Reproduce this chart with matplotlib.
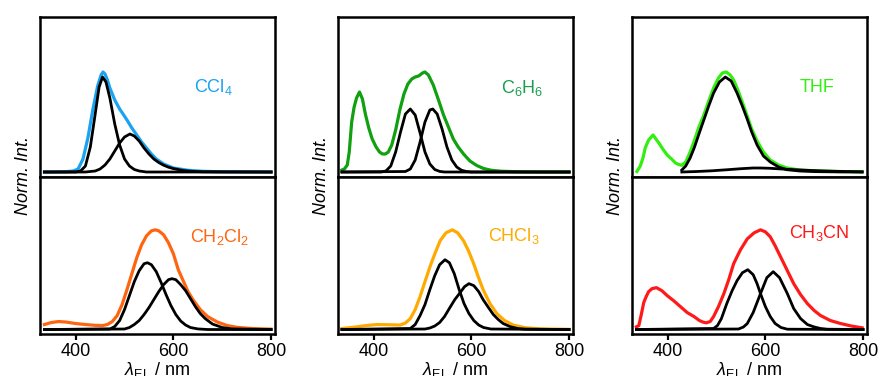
import numpy as np
import matplotlib
matplotlib.use("Agg")
import matplotlib.pyplot as plt

plt.rcParams['font.family'] = ['Liberation Sans', 'DejaVu Sans']
plt.rcParams['mathtext.fontset'] = 'custom'
plt.rcParams['mathtext.rm'] = 'Liberation Sans'
plt.rcParams['mathtext.it'] = 'Liberation Sans:italic'
plt.rcParams['font.size'] = 13

# --- CCl4 (top left) ---
ccl4_wl = [336, 350, 380, 395, 405, 415, 425, 435, 445, 452, 456, 460, 465, 470, 480, 490, 497, 505,
           515, 525, 535, 545, 555, 565, 580, 600, 630, 660, 700, 800]
ccl4_em = [0, 0, 0.003, 0.01, 0.03, 0.13, 0.34, 0.62, 0.86, 0.97, 1.0, 0.98, 0.92, 0.84, 0.72, 0.63, 0.58, 0.52,
           0.44, 0.37, 0.30, 0.24, 0.18, 0.13, 0.08, 0.04, 0.017, 0.007, 0.002, 0]
ccl4_f1_wl = [336, 400, 410, 420, 430, 440, 448, 455, 462, 470, 480, 490, 500, 510, 520, 530, 545, 800]
ccl4_f1 = [0, 0, 0.01, 0.06, 0.25, 0.58, 0.85, 0.95, 0.9, 0.74, 0.48, 0.27, 0.13, 0.06, 0.025, 0.01, 0, 0]
ccl4_f2_wl = [336, 420, 440, 450, 460, 470, 480, 490, 500, 511, 520, 530, 540, 550, 560, 570, 580, 590,
              600, 620, 640, 660, 800]
ccl4_f2 = [0, 0, 0.01, 0.03, 0.07, 0.13, 0.21, 0.29, 0.35, 0.38, 0.36, 0.31, 0.24, 0.18, 0.13, 0.095, 0.068, 0.048,
           0.034, 0.015, 0.006, 0.002, 0]

# --- CH2Cl2 (bottom left) ---
ch2cl2_wl = [336, 350, 365, 380, 400, 420, 440, 455, 465, 475, 485, 495, 505, 515, 525, 535, 545, 555, 563,
             570, 580, 590, 600, 610, 620, 630, 640, 655, 670, 690, 710, 730, 760, 800]
ch2cl2_em = [0.05, 0.07, 0.08, 0.075, 0.06, 0.05, 0.042, 0.04, 0.05, 0.08, 0.14, 0.25, 0.40, 0.56, 0.72, 0.85,
             0.94, 0.99, 1.0, 0.99, 0.95, 0.87, 0.76, 0.60, 0.49, 0.38, 0.30, 0.20, 0.13, 0.075, 0.04, 0.022,
             0.01, 0.004]
ch2cl2_f1_wl = [336, 470, 480, 490, 500, 510, 520, 530, 540, 547, 555, 565, 575, 585, 595, 605, 615, 625,
                635, 650, 670, 800]
ch2cl2_f1 = [0, 0.005, 0.03, 0.09, 0.2, 0.34, 0.48, 0.59, 0.66, 0.67, 0.65, 0.58, 0.47, 0.35, 0.24, 0.15,
             0.085, 0.045, 0.02, 0.006, 0, 0]
ch2cl2_f2_wl = [336, 500, 510, 520, 530, 540, 550, 560, 570, 580, 590, 597, 605, 615, 625, 635, 645, 655,
                665, 680, 700, 720, 800]
ch2cl2_f2 = [0, 0.005, 0.02, 0.05, 0.09, 0.15, 0.22, 0.3, 0.38, 0.45, 0.5, 0.51, 0.5, 0.45, 0.39, 0.31, 0.23,
             0.16, 0.11, 0.055, 0.02, 0.006, 0]

# --- C6H6 (top middle) ---
c6h6_wl = [335, 340, 346, 350, 355, 360, 365, 371, 377, 383, 390, 397, 405, 412, 418, 424, 430, 437, 445,
           454, 462, 470, 478, 485, 492, 500, 505, 512, 522, 532, 543, 553, 563, 573, 584, 597, 611, 625,
           640, 660, 690, 720, 800]
c6h6_em = [0.02, 0.03, 0.07, 0.2, 0.5, 0.65, 0.74, 0.8, 0.73, 0.58, 0.44, 0.33, 0.25, 0.2, 0.18, 0.18, 0.2,
           0.27, 0.42, 0.63, 0.78, 0.88, 0.93, 0.95, 0.96, 0.99, 1.0, 0.97, 0.87, 0.73, 0.57, 0.45, 0.33, 0.25,
           0.18, 0.11, 0.065, 0.035, 0.018, 0.008, 0.003, 0.001, 0]
c6h6_f1_wl = [335, 415, 425, 435, 445, 455, 465, 475, 485, 495, 505, 515, 525, 535, 545, 800]
c6h6_f1 = [0, 0, 0.01, 0.06, 0.2, 0.4, 0.58, 0.63, 0.57, 0.39, 0.2, 0.08, 0.025, 0.006, 0, 0]
c6h6_f2_wl = [335, 465, 475, 485, 495, 505, 515, 521, 530, 540, 550, 560, 570, 580, 590, 600, 800]
c6h6_f2 = [0, 0.005, 0.03, 0.12, 0.3, 0.5, 0.62, 0.63, 0.58, 0.43, 0.25, 0.12, 0.05, 0.017, 0.005, 0, 0]

# --- CHCl3 (bottom middle) ---
chcl3_wl = [335, 350, 366, 385, 407, 430, 454, 465, 475, 485, 495, 505, 516, 526, 536, 548, 561, 572, 584,
            594, 604, 614, 624, 638, 652, 668, 686, 710, 740, 800]
chcl3_em = [0.01, 0.018, 0.027, 0.04, 0.05, 0.048, 0.045, 0.065, 0.11, 0.2, 0.33, 0.48, 0.64, 0.77, 0.89,
            0.97, 1.0, 0.97, 0.89, 0.79, 0.67, 0.53, 0.4, 0.26, 0.16, 0.09, 0.044, 0.018, 0.007, 0.002]
chcl3_f1_wl = [335, 475, 485, 495, 505, 515, 525, 535, 546, 555, 565, 575, 585, 595, 605, 615, 625, 640, 800]
chcl3_f1 = [0, 0.01, 0.05, 0.14, 0.25, 0.4, 0.54, 0.65, 0.7, 0.67, 0.56, 0.4, 0.26, 0.16, 0.09, 0.045, 0.02,
            0.005, 0]
chcl3_f2_wl = [335, 505, 515, 525, 535, 545, 556, 566, 577, 586, 595, 605, 615, 624, 635, 645, 655, 665, 680,
               695, 710, 800]
chcl3_f2 = [0, 0.005, 0.015, 0.035, 0.07, 0.13, 0.22, 0.3, 0.37, 0.43, 0.46, 0.44, 0.38, 0.3, 0.22, 0.15, 0.1,
            0.06, 0.028, 0.01, 0.003, 0]

# --- THF (top right) ---
thf_wl = [337, 344, 350, 354, 361, 370, 382, 390, 399, 408, 416, 423, 429, 437, 446, 455, 464, 474, 484, 494,
          504, 512, 520, 528, 535, 542, 552, 562, 572, 583, 596, 610, 627, 644, 670, 699, 750, 798]
thf_em = [0.005, 0.06, 0.15, 0.24, 0.32, 0.37, 0.29, 0.23, 0.17, 0.13, 0.09, 0.075, 0.067, 0.1, 0.2, 0.32,
          0.45, 0.57, 0.71, 0.84, 0.94, 0.99, 1.0, 0.97, 0.92, 0.84, 0.71, 0.57, 0.43, 0.31, 0.2, 0.12, 0.07,
          0.04, 0.02, 0.013, 0.005, 0.001]
thf_f1_wl = [429, 437, 446, 455, 464, 474, 484, 494, 506, 518, 530, 542, 552, 562, 572, 583, 596, 610, 627,
             644, 670, 700, 750, 798]
thf_f1 = [0.02, 0.06, 0.14, 0.25, 0.38, 0.52, 0.66, 0.79, 0.9, 0.95, 0.91, 0.79, 0.67, 0.54, 0.4, 0.27, 0.16,
          0.1, 0.05, 0.023, 0.01, 0.004, 0.001, 0]
thf_f2_wl = [429, 460, 490, 520, 550, 575, 590, 610, 640, 680, 720, 760, 798]
thf_f2 = [0.0, 0.005, 0.012, 0.022, 0.033, 0.04, 0.04, 0.037, 0.028, 0.018, 0.01, 0.005, 0.002]

# --- CH3CN (bottom right) ---
ch3cn_wl = [336, 341, 346, 351, 356, 361, 368, 377, 388, 399, 412, 426, 440, 454, 465, 472, 479, 487, 494,
            504, 515, 525, 535, 549, 563, 577, 590, 600, 610, 620, 631, 645, 658, 672, 686, 700, 713, 733,
            754, 776, 798]
ch3cn_em = [0.027, 0.04, 0.15, 0.27, 0.33, 0.38, 0.41, 0.42, 0.39, 0.34, 0.29, 0.23, 0.17, 0.13, 0.09, 0.075,
            0.067, 0.08, 0.13, 0.23, 0.36, 0.5, 0.66, 0.8, 0.91, 0.97, 1.0, 0.98, 0.93, 0.84, 0.73, 0.59,
            0.46, 0.35, 0.26, 0.19, 0.14, 0.09, 0.06, 0.035, 0.017]
ch3cn_f1_wl = [336, 494, 502, 510, 521, 532, 542, 553, 564, 575, 583, 590, 600, 610, 620, 632, 645, 800]
ch3cn_f1 = [0, 0.01, 0.04, 0.11, 0.26, 0.39, 0.49, 0.57, 0.6, 0.55, 0.46, 0.36, 0.23, 0.13, 0.06, 0.02,
            0.003, 0]
ch3cn_f2_wl = [336, 545, 555, 563, 575, 590, 603, 616, 629, 645, 658, 672, 686, 699, 713, 727, 800]
ch3cn_f2 = [0, 0.005, 0.025, 0.06, 0.17, 0.36, 0.52, 0.58, 0.52, 0.36, 0.21, 0.11, 0.05, 0.027, 0.01,
            0.003, 0]

panels = [
    # col, row, label, label pos, line colour, label colour, emission, fits
    (0, 0, r'CCl$_4$', (643, 0.85), '#1aa3f0', '#1aa3f0', (ccl4_wl, ccl4_em),
     [(ccl4_f1_wl, ccl4_f1), (ccl4_f2_wl, ccl4_f2)]),
    (0, 1, r'CH$_2$Cl$_2$', (635, 0.93), '#ff6410', '#ff6410', (ch2cl2_wl, ch2cl2_em),
     [(ch2cl2_f1_wl, ch2cl2_f1), (ch2cl2_f2_wl, ch2cl2_f2)]),
    (1, 0, r'C$_6$H$_6$', (661, 0.84), '#10a010', '#1b9e50', (c6h6_wl, c6h6_em),
     [(c6h6_f1_wl, c6h6_f1), (c6h6_f2_wl, c6h6_f2)]),
    (1, 1, r'CHCl$_3$', (634, 0.94), '#ffaa00', '#ffaa00', (chcl3_wl, chcl3_em),
     [(chcl3_f1_wl, chcl3_f1), (chcl3_f2_wl, chcl3_f2)]),
    (2, 0, 'THF', (671, 0.85), '#33ee11', '#33ee11', (thf_wl, thf_em),
     [(thf_f1_wl, thf_f1), (thf_f2_wl, thf_f2)]),
    (2, 1, r'CH$_3$CN', (649, 0.97), '#ff1a1a', '#ff1a1a', (ch3cn_wl, ch3cn_em),
     [(ch3cn_f1_wl, ch3cn_f1), (ch3cn_f2_wl, ch3cn_f2)]),
]

W, H = 880, 376
fig = plt.figure(figsize=(W / 100, H / 100), dpi=100)

col_left = [40, 338, 632]
col_w = 235
row_top = [17, 177]
row_bot = [177, 334]
ylims = [(-0.05, 1.55), (-0.045, 1.53)]

for col, row, label, lpos, color, lcolor, em, fits in panels:
    l = col_left[col]
    t, b = row_top[row], row_bot[row]
    ax = fig.add_axes([l / W, 1 - b / H, col_w / W, (b - t) / H])
    ax.plot(em[0], em[1], color=color, lw=2.3, zorder=2, solid_joinstyle='round')
    for fx, fy in fits:
        ax.plot(fx, fy, color='black', lw=2.0, zorder=3, solid_joinstyle='round')
    ax.text(lpos[0], lpos[1], label, color=lcolor, fontsize=13, ha='left', va='center')
    ax.set_xlim(327, 808)
    ax.set_ylim(*ylims[row])
    ax.set_yticks([])
    ax.set_xticks([400, 600, 800])
    ax.tick_params(axis='x', direction='out', length=4, width=1.6, pad=2.5)
    for s in ax.spines.values():
        s.set_linewidth(1.8)
    if row == 0:
        ax.set_xticklabels([])
    else:
        ax.set_xlabel(r'$\lambda_{\rm EL}$ / nm', fontsize=13, labelpad=0)
        fig.text((l - 17) / W, 1 - 175 / H, 'Norm. Int.', rotation=90, style='italic',
                 fontsize=13, ha='center', va='center')

fig.savefig('out.png', dpi=100)
